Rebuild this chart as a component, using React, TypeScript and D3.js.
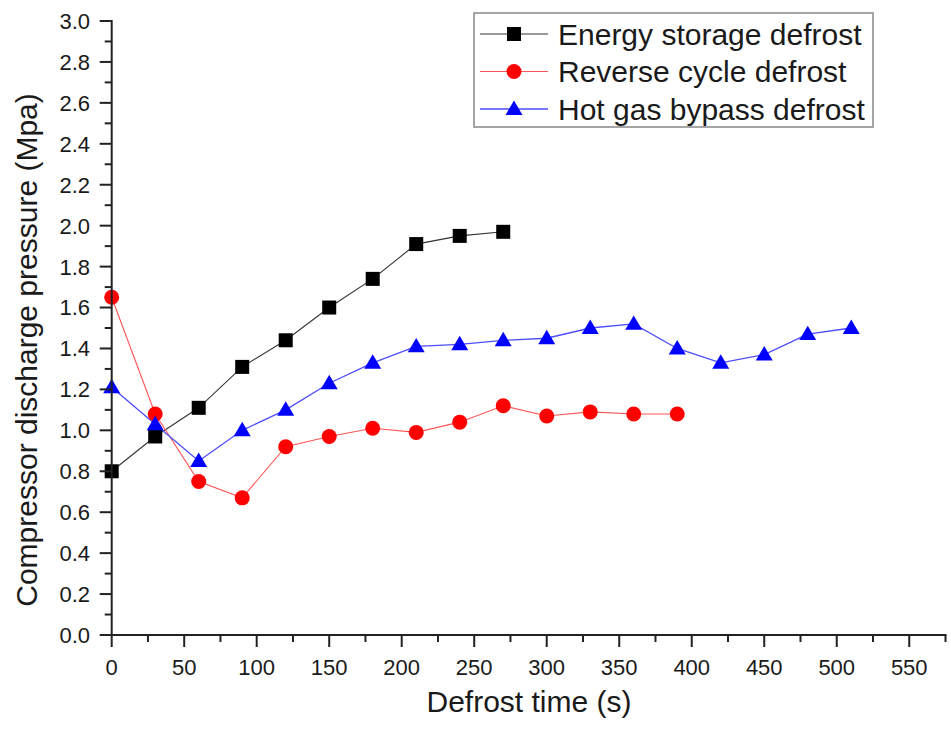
import React from "react";
import * as d3 from "d3";

const times = [0, 30, 60, 90, 120, 150, 180, 210, 240, 270, 300, 330, 360, 390, 420, 450, 480, 510];
const energyStorage = [0.80, 0.97, 1.11, 1.31, 1.44, 1.60, 1.74, 1.91, 1.95, 1.97];
const reverseCycle = [1.65, 1.08, 0.75, 0.67, 0.92, 0.97, 1.01, 0.99, 1.04, 1.12, 1.07, 1.09, 1.08, 1.08];
const hotGasBypass = [1.21, 1.03, 0.85, 1.00, 1.10, 1.23, 1.33, 1.41, 1.42, 1.44, 1.45, 1.50, 1.52, 1.40, 1.33, 1.37, 1.47, 1.50];

const xTicks = [0, 50, 100, 150, 200, 250, 300, 350, 400, 450, 500, 550];
const yTicks = [0.0, 0.2, 0.4, 0.6, 0.8, 1.0, 1.2, 1.4, 1.6, 1.8, 2.0, 2.2, 2.4, 2.6, 2.8, 3.0];
const seriesNames = ["Energy storage defrost", "Reverse cycle defrost", "Hot gas bypass defrost"];

const W = 951;
const H = 738;
const FONT = "Arial, 'Liberation Sans', Helvetica, sans-serif";

export default function App() {
  const x = d3.scaleLinear().domain([0, 575]).range([111.7, 945.5]);
  const y = d3.scaleLinear().domain([0, 3]).range([635, 21]);

  const series = [
    { name: seriesNames[0], values: energyStorage, line: "#333333", fill: "#000000", shape: "square", lw: 1.1 },
    { name: seriesNames[1], values: reverseCycle, line: "#ff5555", fill: "#ff0000", shape: "circle", lw: 1.1 },
    { name: seriesNames[2], values: hotGasBypass, line: "#4d4dff", fill: "#0000ff", shape: "triangle", lw: 1.3 },
  ];

  const lineGen = d3
    .line<[number, number]>()
    .x((d) => x(d[0]))
    .y((d) => y(d[1]));

  const marker = (shape: string, cx: number, cy: number, fill: string, key: string | number) => {
    if (shape === "square") {
      return <rect key={key} x={cx - 7} y={cy - 7} width={14} height={14} fill={fill} />;
    }
    if (shape === "circle") {
      return <circle key={key} cx={cx} cy={cy} r={7.5} fill={fill} />;
    }
    const s = 8.5;
    return (
      <path
        key={key}
        d={`M${cx},${cy - s} L${cx + s * 1.0},${cy + s * 0.7} L${cx - s * 1.0},${cy + s * 0.7} Z`}
        fill={fill}
      />
    );
  };

  const xMinor = d3.range(25, 576, 50);
  const yMinor = d3.range(0.1, 3, 0.2);

  const legendX = 474;
  const legendY = 13;
  const legendRows = [34, 71.5, 109];

  return (
    <svg
      width={W}
      height={H}
      style={{ position: "absolute", left: 0, top: 0, background: "#ffffff" }}
      fontFamily={FONT}
    >
      <rect x={0} y={0} width={W} height={H} fill="#ffffff" />

      {/* series lines */}
      {series.map((s, i) => (
        <path
          key={"l" + i}
          d={lineGen(s.values.map((v, j) => [times[j], v] as [number, number])) || ""}
          fill="none"
          stroke={s.line}
          strokeWidth={s.lw}
        />
      ))}
      {/* markers */}
      {series.map((s, i) => (
        <g key={"m" + i}>
          {s.values.map((v, j) => marker(s.shape, x(times[j]), y(v), s.fill, j))}
        </g>
      ))}

      {/* axes */}
      <g stroke="#222222" strokeWidth={2}>
        <line x1={x(0)} x2={x(575) + 1} y1={y(0)} y2={y(0)} />
        <line x1={x(0)} x2={x(0)} y1={y(0)} y2={y(3) - 1} />
        {xTicks.map((t) => (
          <line key={"xt" + t} x1={x(t)} x2={x(t)} y1={y(0)} y2={y(0) + 12} />
        ))}
        {xMinor.map((t) => (
          <line key={"xm" + t} x1={x(t)} x2={x(t)} y1={y(0)} y2={y(0) + 7} />
        ))}
        {yTicks.map((t) => (
          <line key={"yt" + t} x1={x(0) - 12} x2={x(0)} y1={y(t)} y2={y(t)} />
        ))}
        {yMinor.map((t) => (
          <line key={"ym" + t} x1={x(0) - 7} x2={x(0)} y1={y(t)} y2={y(t)} />
        ))}
      </g>
      <g fill="#1a1a1a" fontSize={22}>
        {xTicks.map((t) => (
          <text key={"xl" + t} x={x(t)} y={y(0) + 40} textAnchor="middle">
            {t}
          </text>
        ))}
        {yTicks.map((t) => (
          <text key={"yl" + t} x={90} y={y(t)} dy="0.36em" textAnchor="end">
            {t.toFixed(1)}
          </text>
        ))}
      </g>

      {/* axis titles */}
      <text x={529} y={712} textAnchor="middle" fontSize={30} fill="#1a1a1a">
        Defrost time (s)
      </text>
      <text
        transform={`translate(37,${y(1.5) + 22}) rotate(-90)`}
        textAnchor="middle"
        fontSize={30}
        fill="#1a1a1a"
      >
        Compressor discharge pressure (Mpa)
      </text>

      {/* legend */}
      <rect x={legendX} y={legendY} width={399} height={114} fill="#ffffff" stroke="#888888" strokeWidth={1.5} />
      {series.map((s, i) => (
        <g key={"lg" + i}>
          <line x1={480} x2={548} y1={legendRows[i]} y2={legendRows[i]} stroke={s.line} strokeWidth={s.lw} />
          {marker(s.shape, 514, legendRows[i], s.fill, "lm" + i)}
          <text x={558} y={legendRows[i]} dy="0.36em" fontSize={30} fill="#1a1a1a">
            {s.name}
          </text>
        </g>
      ))}
    </svg>
  );
}
